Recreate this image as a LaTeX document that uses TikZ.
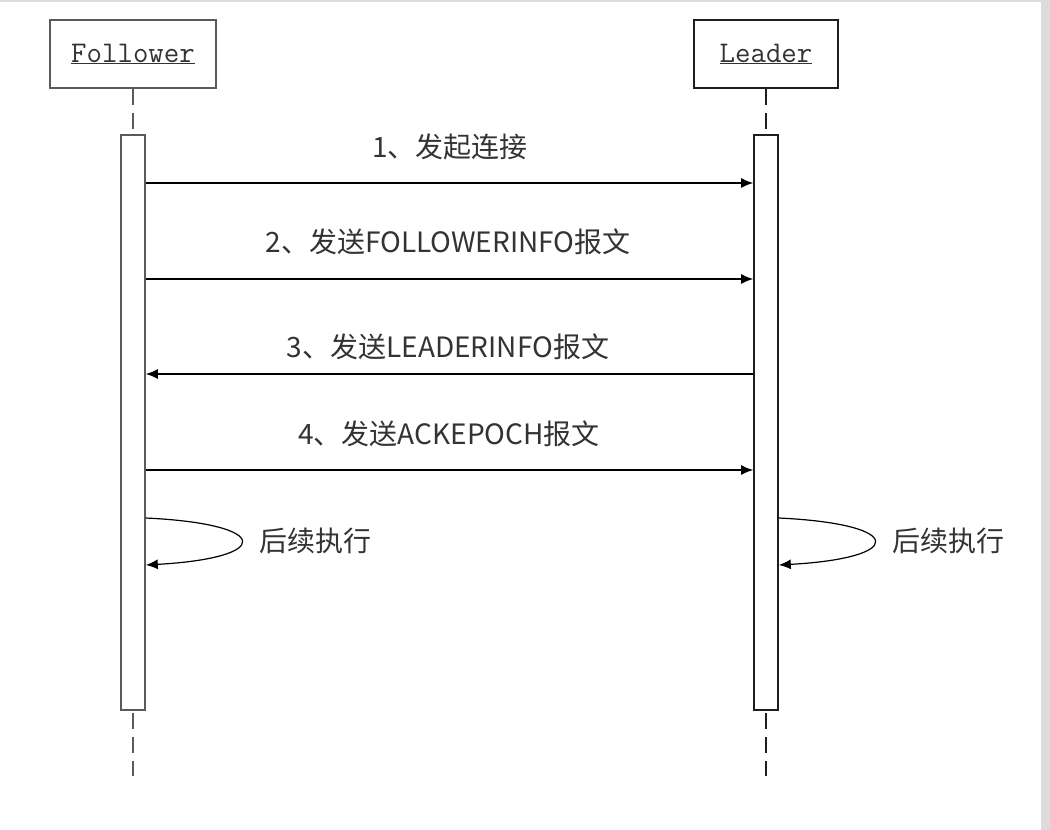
\documentclass[tikz,border=0pt]{standalone}
\usepackage{fontspec}
\newfontfamily\cjk{Noto Sans CJK SC}
\newfontfamily\monof{Latin Modern Mono}
\usetikzlibrary{arrows.meta}
\definecolor{fcol}{RGB}{90,90,90}
\definecolor{lcol}{RGB}{30,30,30}
\definecolor{edge}{RGB}{220,220,220}
\tikzset{
  actor/.style={draw, line width=1.6pt, minimum width=#1, minimum height=68pt, inner sep=0pt, font=\monof\fontsize{30}{30}\selectfont, text=black!80},
  actbar/.style={draw, line width=1.6pt, fill=white, minimum width=24pt, minimum height=575pt, inner sep=0pt},
  life/.style={line width=1.6pt, dash pattern=on 16pt off 8pt},
  msg/.style={line width=1.4pt, -{Latex[length=12pt,width=10pt]}},
  lbl/.style={font=\cjk\fontsize{28}{28}\selectfont, inner sep=0pt, text=black!80}
}
\begin{document}
\begin{tikzpicture}[x=1pt,y=-1pt]
\useasboundingbox (0,0) rectangle (1050,830);
\fill[white] (0,0) rectangle (1050,830);
\fill[edge] (0,0) rectangle (1050,2);
\fill[edge] (1041,0) rectangle (1050,830);
% actors
\node[actor=166pt, draw=fcol] (fol) at (133,54) {\underline{Follower}};
\node[actor=144pt, draw=lcol] (lea) at (766,54) {\underline{Leader}};
% lifelines
\coordinate (fend) at (133,776);
\coordinate (lend) at (766,776);
\draw[life, fcol] (fol.south) -- (fend);
\draw[life, lcol] (lea.south) -- (lend);
% activation bars
\node[actbar, draw=fcol] (fbar) at (133,422.5) {};
\node[actbar, draw=lcol] (lbar) at (766,422.5) {};
% messages
\draw[msg] (fbar.east |- 0,183) -- (lbar.west |- 0,183);
\node[lbl] (t1) at (450,147) {1、发起连接};
\draw[msg] (fbar.east |- 0,279) -- (lbar.west |- 0,279);
\node[lbl] (t2) at (448,242) {2、发送FOLLOWERINFO报文};
\draw[msg] (lbar.west |- 0,374) -- (fbar.east |- 0,374);
\node[lbl] (t3) at (448,347) {3、发送LEADERINFO报文};
\draw[msg] (fbar.east |- 0,470) -- (lbar.west |- 0,470);
\node[lbl] (t4) at (449,434) {4、发送ACKEPOCH报文};
% self loops
\draw[msg, line width=1.2pt] (fbar.east |- 0,518) .. controls (273,524) and (273,558) .. (fbar.east |- 0,565);
\node[lbl, anchor=west] (s1) at (259,541) {后续执行};
\draw[msg, line width=1.2pt] (lbar.east |- 0,518) .. controls (906,524) and (906,558) .. (lbar.east |- 0,565);
\node[lbl, anchor=west] (s2) at (892,541) {后续执行};
\end{tikzpicture}
\end{document}
